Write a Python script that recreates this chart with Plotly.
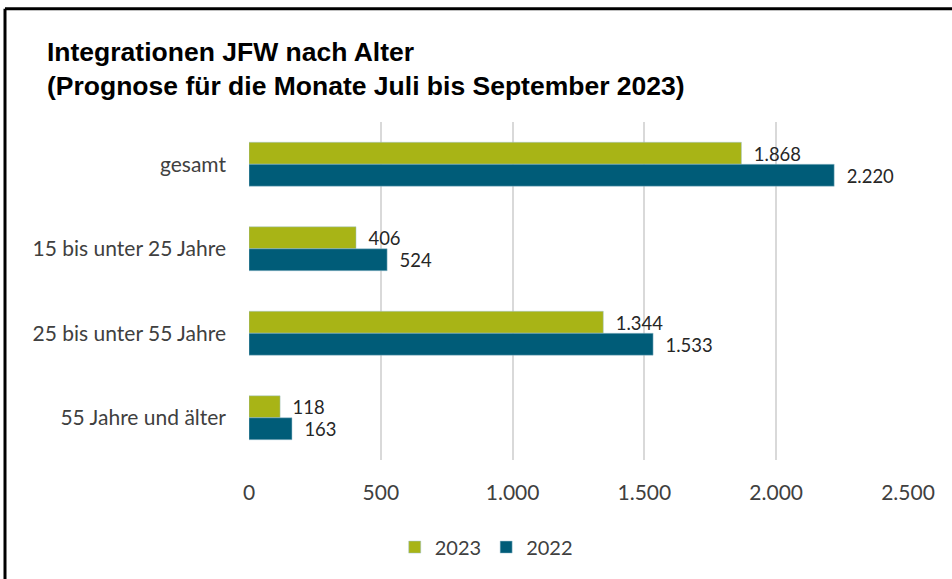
import plotly.graph_objects as go

# colours taken from the chart
C_2023 = "#A8B416"
C_2022 = "#005C78"
GRID = "#D9D9D9"
TEXT = "#404040"

categories = ["gesamt", "15 bis unter 25 Jahre", "25 bis unter 55 Jahre", "55 Jahre und älter"]
values_2023 = [1868, 406, 1344, 118]
values_2022 = [2220, 524, 1533, 163]
x_ticks = [0, 500, 1000, 1500, 2000, 2500]

fig = go.Figure()

for name, vals, col in [("2023", values_2023, C_2023), ("2022", values_2022, C_2022)]:
    fig.add_trace(
        go.Bar(
            y=categories, x=vals, name=name, orientation="h",
            marker=dict(color=col, line=dict(color="#9FC3D0", width=0.5)),
            texttemplate="  %{x:,.0f}", textposition="outside",
            textfont=dict(family="Lato", size=21, color="#262626"),
            cliponaxis=False,
        )
    )

fig.update_layout(
    width=952, height=579,
    margin=dict(l=249, r=44, t=122, b=117),
    paper_bgcolor="white", plot_bgcolor="white",
    separators=",.",
    barmode="group", bargap=0.48, bargroupgap=0,
    font=dict(family="Lato", size=21, color=TEXT),
    title=dict(
        text="<b>Integrationen JFW nach Alter<br>(Prognose für die Monate Juli bis September 2023)</b>",
        x=47 / 952, xanchor="left", y=1 - 61 / 579, yanchor="top",
        font=dict(family="Liberation Sans", size=26.5, color="#000000"),
    ),
    legend=dict(
        orientation="h", x=0.36, xanchor="center", y=-0.2, yanchor="top",
        font=dict(family="Lato", size=20, color=TEXT),
        traceorder="normal",
    ),
    showlegend=True,
)

fig.update_xaxes(
    range=[0, 2500], tickvals=x_ticks, tickformat=",.0f",
    showgrid=True, gridcolor=GRID, gridwidth=2, zeroline=False,
    showline=False, ticklabelstandoff=18,
)
fig.update_yaxes(
    autorange="reversed", showgrid=False, showline=False,
    ticklabelstandoff=22,
)

# frame of the original image (top and left edge)
top = 1 + (122 - 8) / 340
left = (5 - 249) / 659
fig.add_shape(type="line", xref="paper", yref="paper",
              x0=left, x1=1.2, y0=top, y1=top,
              line=dict(color="black", width=3))
fig.add_shape(type="line", xref="paper", yref="paper",
              x0=left, x1=left, y0=top, y1=-0.4,
              line=dict(color="black", width=3))

# drop the default page margin so the figure sits at the window corner
fig.write_html("out.html", config={"displayModeBar": False},
               post_script="document.body.style.margin='0';")
